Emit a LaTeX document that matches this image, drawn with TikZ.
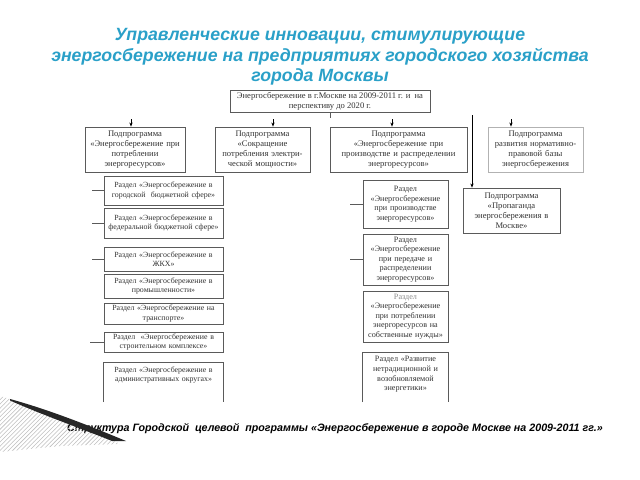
\documentclass[tikz,border=0pt]{standalone}
\usepackage{fontspec}
\setmainfont{Liberation Serif}
\newfontfamily\titlefont{Liberation Sans}
\usetikzlibrary{arrows.meta,patterns}
\definecolor{titleBlue}{RGB}{42,160,200}
\definecolor{boxGray}{RGB}{90,90,90}

\begin{document}
\begin{tikzpicture}[
		x=0.025cm, y=-0.025cm,
		% Estilo base de las cajas: texto pequeño con serifa, centrado
		myBox/.style={draw=boxGray, line width=0.5pt, align=center, inner sep=1pt,
			text=black!80, font=\fontsize{6.1}{7.1}\selectfont},
		% Columnas de secciones
		leftBox/.style={myBox, minimum width=2.975cm, text width=2.85cm, font=\fontsize{5.6}{6.6}\selectfont},
		midBox/.style={myBox, minimum width=2.125cm, text width=2.0cm, font=\fontsize{5.8}{6.8}\selectfont},
		myArrow/.style={-{Stealth[length=3pt, width=2.4pt]}, line width=0.5pt},
		myLine/.style={line width=0.5pt, draw=boxGray}
	]
	\useasboundingbox (0,0) rectangle (640,480);

	% --- 1. Títulos ---
	\node[font=\titlefont\bfseries\itshape\fontsize{12.6}{14.6}\selectfont, text=titleBlue, align=center]
		(title) at (320,57) {Управленческие инновации, стимулирующие\\
		энергосбережение на предприятиях городского хозяйства\\ города Москвы};

	\node[font=\titlefont\bfseries\itshape\fontsize{7.6}{9}\selectfont]
		(caption) at (335,429) {Структура Городской\ \ целевой\ \ программы «Энергосбережение в городе Москве на 2009-2011 гг.»};

	% --- 2. Caja superior y subprogramas ---
	\node[myBox, minimum width=5cm, minimum height=0.55cm] (Top) at (330,101)
		{Энергосбережение в г.Москве на 2009-2011 г. и\ \ на\\ перспективу до 2020 г.};

	\node[myBox, minimum width=2.5cm, minimum height=1.125cm, text width=2.4cm] (P1) at (135,149.5)
		{Подпрограмма\\ «Энергосбережение при\\ потреблении\\ энергоресурсов»};
	\node[myBox, minimum width=2.375cm, minimum height=1.125cm, text width=2.3cm] (P2) at (262.5,149.5)
		{Подпрограмма\\ «Сокращение\\ потребления электри-\\ческой мощности»};
	\node[myBox, minimum width=3.425cm, minimum height=1.125cm, text width=3.3cm] (P3) at (398.5,149.5)
		{Подпрограмма\\ «Энергосбережение при\\ производстве и распределении\\ энергоресурсов»};
	\node[myBox, draw=black!30, minimum width=2.375cm, minimum height=1.125cm, text width=2.3cm] (P4) at (535.5,149.5)
		{Подпрограмма\\ развития нормативно-\\правовой базы\\ энергосбережения};
	\node[myBox, minimum width=2.425cm, minimum height=1.125cm, text width=2.3cm] (P5) at (511.5,210.5)
		{Подпрограмма\\ «Пропаганда\\ энергосбережения в\\ Москве»};

	% --- 3. Secciones, columna izquierda ---
	\node[leftBox, minimum height=0.725cm] (R1) at (163.5,190.5) {Раздел «Энергосбережение в\\ городской\ \ бюджетной сфере»};
	\node[leftBox, minimum height=0.75cm]  (R2) at (163.5,223)   {Раздел «Энергосбережение в\\ федеральной бюджетной сфере»};
	\node[leftBox, minimum height=0.6cm]   (R3) at (163.5,259)   {Раздел «Энергосбережение в\\ ЖКХ»};
	\node[leftBox, minimum height=0.6cm]   (R4) at (163.5,286)   {Раздел «Энергосбережение в\\ промышленности»};
	\node[leftBox, minimum height=0.525cm] (R5) at (163.5,313.5) {Раздел «Энергосбережение на\\ транспорте»};
	\node[leftBox, minimum height=0.5cm]   (R6) at (163.5,342)   {Раздел\ \ «Энергосбережение в\\ строительном комплексе»};
	\node[leftBox, draw=none, anchor=north, inner ysep=3pt] (R7) at (163.5,362)
		{Раздел «Энергосбережение в\\ административных округах»};

	% --- 4. Secciones, columna central ---
	\node[midBox, minimum height=1.2cm]   (S1) at (405.5,204)   {Раздел\\ «Энергосбережение\\ при производстве\\ энергоресурсов»};
	\node[midBox, minimum height=1.275cm] (S2) at (405.5,259.5) {Раздел\\ «Энергосбережение\\ при передаче и\\ распределении\\ энергоресурсов»};
	\node[midBox, minimum height=1.275cm] (S3) at (405.5,316.5) {{\color{black!45}Раздел}\\ «Энергосбережение\\ при потреблении\\ энергоресурсов на\\ собственные нужды»};
	\node[midBox, draw=none, anchor=north, inner ysep=3pt] (S4) at (405.5,352)
		{Раздел «Развитие\\ нетрадиционной и\\ возобновляемой\\ энергетики»};

	% cajas abiertas por abajo
	\draw[myLine] (R7.north west) ++(0,40) -- (R7.north west) -- (R7.north east) -- ++(0,40);
	\draw[myLine] (S4.north west) ++(0,50) -- (S4.north west) -- (S4.north east) -- ++(0,50);

	% --- 5. Flechas superiores ---
	\coordinate (a1) at (131,119);
	\coordinate (a2) at (273,119);
	\coordinate (a3) at (392,119);
	\coordinate (a4) at (511,119);
	\coordinate (a5) at (472,115);

	\draw[myLine] (Top.south) -- ++(0,6);
	\draw[myArrow] (a1) -- (a1 |- P1.north);
	\draw[myArrow] (a2) -- (a2 |- P2.north);
	\draw[myArrow] (a3) -- (a3 |- P3.north);
	\draw[myArrow] (a4) -- (a4 |- P4.north);
	\draw[myArrow] (a5) -- (a5 |- P5.north);

	% --- 6. Líneas laterales ---
	\draw[myLine] (R1.west) -- ++(-12,0);
	\draw[myLine] (R2.west) -- ++(-12,0);
	\draw[myLine] (R3.west) -- ++(-12,0);
	\draw[myLine] (R6.west) -- ++(-14,0);
	\draw[myLine] (S1.west) -- ++(-13,0);
	\draw[myLine] (S2.west) -- ++(-13,0);

	% --- 7. Adorno inferior izquierdo ---
	\fill[pattern=north east lines, pattern color=black!25]
		(0,396) .. controls (40,408) and (80,425) .. (120,444) -- (60,446) -- (0,452) -- cycle;
	\fill[black!85]
		(10,399) .. controls (50,410) and (90,426) .. (126,441)
		-- (112,441) .. controls (80,428) and (45,416) .. (10,400.5) -- cycle;

\end{tikzpicture}
\end{document}
